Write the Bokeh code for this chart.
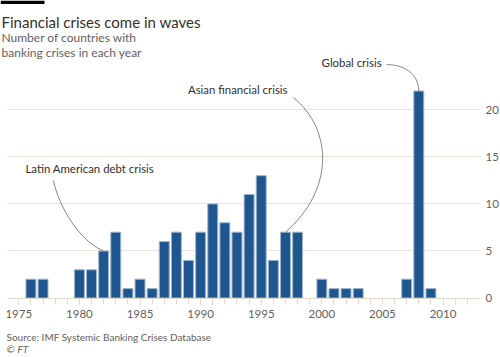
from bokeh.plotting import figure
from bokeh.models import (Range1d, FixedTicker, Label, BoxAnnotation, ColumnDataSource,
                          CDSView, BooleanFilter)
from bokeh.embed import file_html
from bokeh.resources import INLINE
from bokeh.core.properties import value

# ---- data ----
years = list(range(1976, 2010))
crises = [2, 2, 0, 0, 3, 3, 5, 7, 1, 2, 1, 6, 7, 4, 7, 10, 8, 7, 11, 13, 4, 7, 7,
          0, 2, 1, 1, 1, 0, 0, 0, 2, 22, 1]
y_ticks = [0, 5, 10, 15, 20]
x_major_ticks = [1975, 1980, 1985, 1990, 1995, 2000, 2005, 2010]
x_minor_ticks = list(range(1975, 2013))

annotations = [
    ("Latin American debt crisis", 1982),
    ("Asian financial crisis", 1997),
    ("Global crisis", 2008),
]

FONT = "Lato"
TEXT = "#33302e"
GREY = "#66605c"
GRID = "#ece3da"
AXIS = "#e2d8ce"
BAR = "#1f5690"

# plot-area extent (data units) used for axis line / grid bounds
X_LEFT, X_RIGHT = 1974.07, 2013.09

p = figure(width=500, height=357, output_backend="svg", toolbar_location=None,
           x_range=Range1d(1973.49, 2014.74), y_range=Range1d(-6.32, 31.62),
           y_axis_location="right",
           min_border_left=0, min_border_right=0, min_border_top=0,
           min_border_bottom=0)
p.outline_line_color = None
p.background_fill_color = "white"
p.border_fill_color = "white"

src = ColumnDataSource(dict(x=years, top=crises))
view = CDSView(filter=BooleanFilter([v > 0 for v in crises]))
p.vbar(x="x", top="top", width=0.82, source=src, view=view, fill_color=BAR,
       line_color="#9db4cd", line_width=1)

# grid
grid = p.ygrid[0]
if "cross_bounds" in grid.properties():
    grid.ticker = FixedTicker(ticks=y_ticks[1:])
    grid.grid_line_color = GRID
    grid.cross_bounds = (X_LEFT, X_RIGHT)
else:
    grid.grid_line_color = None
    p.segment(x0=[X_LEFT] * 4, x1=[X_RIGHT] * 4, y0=y_ticks[1:], y1=y_ticks[1:],
              line_color=GRID, line_width=1, level="underlay")
p.xgrid.grid_line_color = None

# axes (fixed inside the full-canvas frame)
yax = p.yaxis[0]
yax.fixed_location = X_RIGHT
yax.ticker = FixedTicker(ticks=y_ticks)
yax.axis_line_color = None
yax.major_tick_line_color = None
yax.minor_tick_line_color = None
yax.major_tick_in = 0
yax.major_tick_out = 0
yax.minor_tick_in = 0
yax.minor_tick_out = 0
yax.major_label_standoff = 5
yax.major_label_text_font = FONT
yax.major_label_text_font_size = "11.5px"
yax.major_label_text_color = GREY

xax = p.xaxis[0]
xax.fixed_location = 0
xax.bounds = (X_LEFT, X_RIGHT)
xax.ticker = FixedTicker(ticks=x_major_ticks, minor_ticks=x_minor_ticks)
xax.axis_line_color = AXIS
xax.major_tick_line_color = AXIS
xax.minor_tick_line_color = AXIS
xax.major_tick_in = 0
xax.major_tick_out = 6
xax.minor_tick_in = 0
xax.minor_tick_out = 6
xax.major_label_standoff = 6
xax.major_label_text_font = FONT
xax.major_label_text_font_size = "11.5px"
xax.major_label_text_color = GREY

# annotations (curves anchored at bar tops)
vals = dict(zip(years, crises))
targets_x = [a[1] for a in annotations]
targets_y = [vals[a[1]] for a in annotations]
p.bezier(x0=[1977.86, 1997.66, 2005.34], y0=[12.49, 21.31, 24.81],
         x1=targets_x, y1=targets_y,
         cx0=[1978.28, 2000.97, 2006.66], cy0=[9.83, 17.80, 24.81],
         cx1=[1979.93, 2000.97, 2007.98], cy1=[6.11, 11.42, 23.96],
         line_color="#8a8580", line_width=1)

p.text(x=[1975.55], y=[13.76], text=[annotations[0][0]], text_align="left",
       text_baseline="middle", text_font=value(FONT), text_font_size="11.4px",
       text_color=TEXT)
p.text(x=[1997.17, 2004.93], y=[22.16, 25.03],
       text=[annotations[1][0], annotations[2][0]], text_align="right",
       text_baseline="middle", text_font=value(FONT), text_font_size="11.4px",
       text_color=TEXT)

# header / footer in screen units (frame == canvas, origin bottom-left)
p.add_layout(BoxAnnotation(left=0, right=44, top=357, bottom=353.5,
                           left_units="screen", right_units="screen",
                           top_units="screen", bottom_units="screen",
                           fill_color="black", fill_alpha=1, line_color=None))

def label(x, y, text, size, color, style="normal"):
    p.add_layout(Label(x=x, y=y, x_units="screen", y_units="screen", text=text,
                       text_font=FONT, text_font_size=size, text_color=color,
                       text_font_style=style, text_baseline="alphabetic"))

label(1, 335.7, "Financial crises come in waves", "15px", TEXT)
label(1, 320.3, "Number of countries with", "12px", GREY)
label(1, 305.3, "banking crises in each year", "12px", GREY)
label(6, 20.5, "Source: IMF Systemic Banking Crises Database", "10px", GREY)
label(6, 8.3, "\u00a9", "10px", GREY)
label(17, 8.3, "FT", "10px", GREY, "italic")

open("out.html", "w").write(file_html(p, INLINE))
